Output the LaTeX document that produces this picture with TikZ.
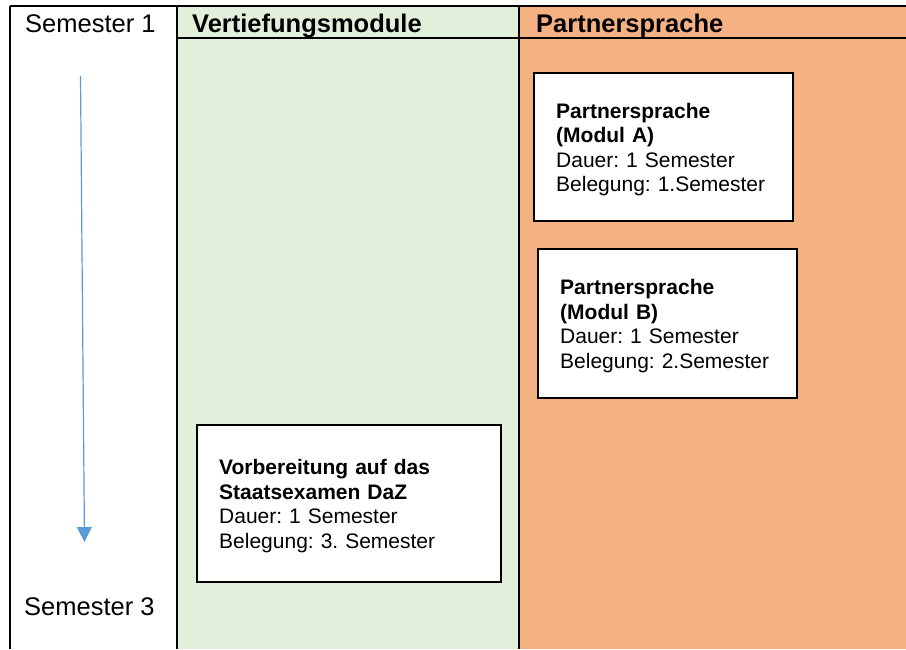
\documentclass[tikz,border=0pt]{standalone}
\usepackage{fontspec}
\setmainfont{Liberation Sans}
\usetikzlibrary{arrows.meta}
\frenchspacing
\definecolor{vgreen}{HTML}{E2EFDA}
\definecolor{porange}{HTML}{F4B183}
\definecolor{arrblue}{HTML}{5B9BD5}
\newcommand{\topstrut}{\rule{0pt}{19.5pt}}
\tikzset{
  gridline/.style={line width=1.8pt, black},
  headtext/.style={anchor=base west, inner sep=0pt, font=\fontsize{25.5}{30}\selectfont},
  modbox/.style={draw=black, line width=2.4pt, fill=white, anchor=north west,
    inner xsep=22pt, inner ysep=0pt, align=left,
    font=\fontsize{21}{24.5}\selectfont\frenchspacing},
  timearrow/.style={draw=arrblue, line width=1.2pt, -{Triangle[width=15pt,length=15pt]}}
}
\begin{document}
\begin{tikzpicture}[x=1pt,y=-1pt]
\useasboundingbox (0,0) rectangle (906,649);
% column fills
\fill[white] (0,0) rectangle (906,649);
\fill[vgreen] (177,6) rectangle (519,649);
\fill[porange] (519,6) rectangle (906,649);
% grid lines
\draw[gridline] (10,6) -- (906,6);
\draw[gridline] (177,38) -- (906,38);
\draw[gridline] (10,6) -- (10,649);
\draw[gridline] (177,6) -- (177,649);
\draw[gridline] (519,6) -- (519,649);
% headers
\node[headtext] (sem1) at (25,32.5) {Semester 1};
\node[headtext, font=\fontsize{25.5}{30}\selectfont\bfseries] (hvert) at (192,32.5) {Vertiefungsmodule};
\node[headtext, font=\fontsize{25.5}{30}\selectfont\bfseries] (hpart) at (536,32.5) {Partnersprache};
\node[headtext] (sem3) at (24,615) {Semester 3};
% time arrow
\coordinate (arrS) at (80.5,76);
\coordinate (arrE) at (84.5,542);
\draw[timearrow] (arrS) -- (arrE);
% module boxes
\node[modbox, text width=215pt, minimum height=148pt] (modA) at (533,72)
  {\topstrut\textbf{Partnersprache}\\\textbf{(Modul A)}\\Dauer: 1 Semester\\Belegung: 1.Semester};
\node[modbox, text width=215pt, minimum height=149pt] (modB) at (537,248)
  {\topstrut\textbf{Partnersprache}\\\textbf{(Modul B)}\\Dauer: 1 Semester\\Belegung: 2.Semester};
\node[modbox, text width=260pt, minimum height=157pt] (modC) at (196,424)
  {\topstrut\textbf{Vorbereitung auf das}\\\textbf{Staatsexamen DaZ}\\Dauer: 1 Semester\\Belegung: 3. Semester};
\end{tikzpicture}
\end{document}
